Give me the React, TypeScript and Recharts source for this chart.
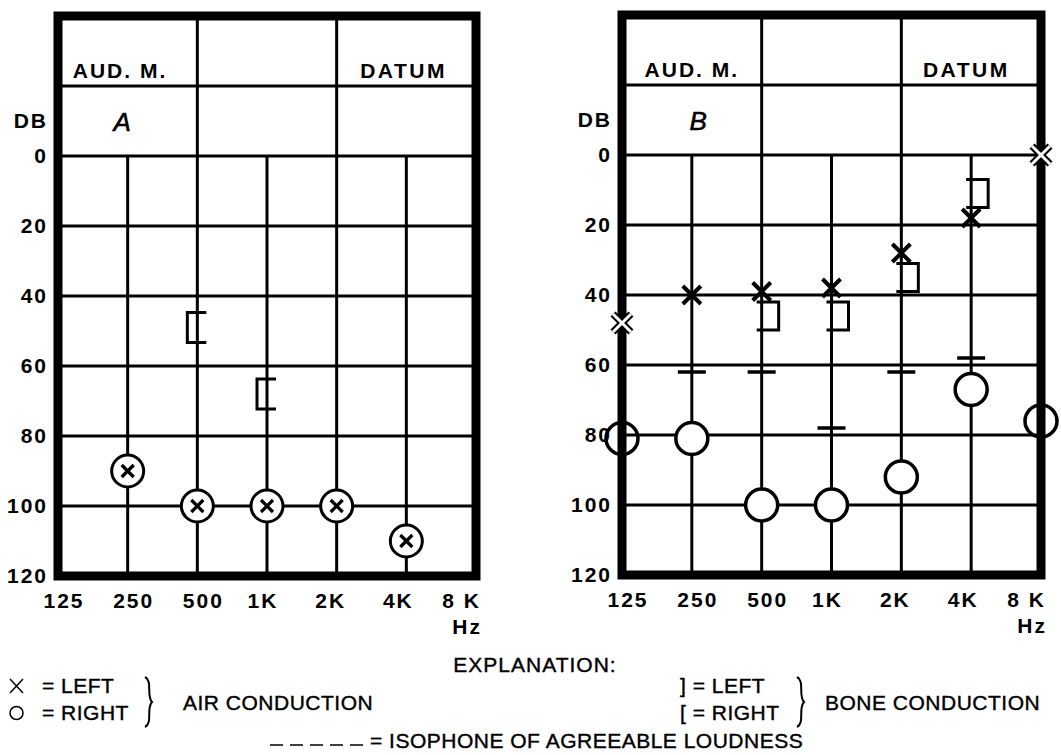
import React from "react";
import {
  ScatterChart,
  Scatter,
  XAxis,
  YAxis,
  ReferenceLine,
  ReferenceArea,
  ReferenceDot,
} from "recharts";

// frequency scale (category index is the x value)
const freqLabels = ["125", "250", "500", "1K", "2K", "4K", "8 K"];
const freqTicks = [0, 1, 2, 3, 4, 5, 6];
const dbTicks = [-10, 0, 20, 40, 60, 80, 100, 120];
const gridRows = [-20, 0, 20, 40, 60, 80, 100];
const tallCols = ["500", "2K"];
const shortCols = ["250", "1K", "4K"];

// audiogram A
const aAirFreq = ["250", "500", "1K", "2K", "4K"];
const aAirDb = [90, 100, 100, 100, 110];
const aBoneRightFreq = ["500", "1K"];
const aBoneRightDb = [49, 68];

// audiogram B
const bAirFreq = ["125", "250", "500", "1K", "2K", "4K", "8 K"];
const bAirLeftDb = [48, 40, 39, 38, 28, 18, 0];
const bAirRightDb = [81, 81, 100, 100, 92, 67, 76];
const bBoneLeftFreq = ["500", "1K", "2K", "4K"];
const bBoneLeftDb = [46, 46, 35, 11];
const bIsoFreq = ["250", "500", "1K", "2K", "4K"];
const bIsoDb = [62, 62, 78, 62, 58];

const toPoints = (freqs: string[], dbs: number[]) =>
  freqs.map((f, i) => ({ x: freqLabels.indexOf(f), y: dbs[i] }));

const tickNudge = [6, 6, 6, -4, -6, -8, 5];

const axisFont: React.CSSProperties = {
  fontFamily: "'Liberation Sans', Arial, sans-serif",
  fontWeight: 700,
  fontSize: 21,
  letterSpacing: 2,
  fill: "#000",
};

const legendFont: React.CSSProperties = {
  fontFamily: "'Liberation Sans', Arial, sans-serif",
  fontSize: 21,
  letterSpacing: 0.5,
  fill: "#000",
  stroke: "#000",
  strokeWidth: 0.4,
};

const isEdge = (p: any) => p.payload.x === 0 || p.payload.x === 6;

const CircleX = (p: any) => (
  <g>
    <circle cx={p.cx} cy={p.cy} r={16} fill="#fff" stroke="#000" strokeWidth={3} />
    <path
      d={`M${p.cx - 6},${p.cy - 6}L${p.cx + 6},${p.cy + 6}M${p.cx + 6},${p.cy - 6}L${p.cx - 6},${p.cy + 6}`}
      stroke="#000"
      strokeWidth={3.2}
    />
  </g>
);

const RingMark = (p: any) => (
  <circle
    cx={p.cx}
    cy={p.cy}
    r={16}
    fill={isEdge(p) ? "none" : "#fff"}
    stroke="#000"
    strokeWidth={3.5}
  />
);

const CrossMark = (p: any) => {
  const d = `M${p.cx - 9},${p.cy - 9}L${p.cx + 9},${p.cy + 9}M${p.cx + 9},${p.cy - 9}L${p.cx - 9},${p.cy + 9}`;
  if (isEdge(p)) {
    return (
      <g>
        <path d={d} stroke="#000" strokeWidth={7} />
        <path d={d} stroke="#fff" strokeWidth={3} />
      </g>
    );
  }
  return <path d={d} stroke="#000" strokeWidth={4} />;
};

const RightBracket = (p: any) => (
  <path
    d={`M${p.cx + 9},${p.cy - 15}L${p.cx - 10},${p.cy - 15}L${p.cx - 10},${p.cy + 15}L${p.cx + 9},${p.cy + 15}`}
    fill="none"
    stroke="#000"
    strokeWidth={3}
  />
);

const LeftBracket = (p: any) => (
  <path
    d={`M${p.cx - 5},${p.cy - 14}L${p.cx + 17},${p.cy - 14}L${p.cx + 17},${p.cy + 14}L${p.cx - 5},${p.cy + 14}`}
    fill="none"
    stroke="#000"
    strokeWidth={3}
  />
);

const IsoMark = (p: any) => (
  <line x1={p.cx - 14} x2={p.cx + 14} y1={p.cy} y2={p.cy} stroke="#000" strokeWidth={3.5} />
);

const YTick = ({ x, y, payload }: any) => (
  <text x={x} y={y} dy={7} textAnchor="end" style={axisFont}>
    {payload.value === -10 ? "DB" : payload.value}
  </text>
);

const XTick = ({ x, y, payload }: any) => {
  const i = payload.value;
  const last = i === freqLabels.length - 1;
  return (
    <g>
      <text
        x={x + tickNudge[i]}
        y={y + 32}
        textAnchor={last ? "end" : "middle"}
        style={axisFont}
      >
        {freqLabels[i]}
      </text>
      {last && (
        <text x={x + 6} y={y + 58} textAnchor="end" style={axisFont}>
          Hz
        </text>
      )}
    </g>
  );
};

const headText = (text: string, spacing: number) => (p: any) => (
  <text
    x={p.cx}
    y={p.cy + 8}
    textAnchor="middle"
    style={{ ...axisFont, letterSpacing: spacing }}
  >
    {text}
  </text>
);

const panelLetter = (text: string) => (p: any) => (
  <text
    x={p.cx}
    y={p.cy + 9}
    textAnchor="middle"
    style={{
      fontFamily: "'Liberation Sans', Arial, sans-serif",
      fontStyle: "italic",
      fontSize: 26,
      fill: "#000",
      stroke: "#000",
      strokeWidth: 0.6,
    }}
  >
    {text}
  </text>
);

interface PanelProps {
  letter: string;
  audX: number;
  datumX: number;
  letterX: number;
  width: number;
  marginRight: number;
  marginTop: number;
  children?: React.ReactNode;
}

const Panel = ({ letter, audX, datumX, letterX, width, marginRight, marginTop, children }: PanelProps) => (
  <ScatterChart
    width={width}
    height={650}
    margin={{ top: marginTop, right: marginRight, bottom: 40 - marginTop, left: 0 }}
  >
    <XAxis
      type="number"
      dataKey="x"
      domain={[0, 6]}
      ticks={freqTicks}
      interval={0}
      axisLine={false}
      tickLine={false}
      tickSize={0}
      tickMargin={0}
      height={50}
      tick={<XTick />}
    />
    <YAxis
      type="number"
      dataKey="y"
      domain={[-40, 120]}
      reversed
      ticks={dbTicks}
      interval={0}
      axisLine={false}
      tickLine={false}
      tickSize={0}
      tickMargin={10}
      width={58}
      tick={<YTick />}
    />
    {gridRows.map((v) => (
      <ReferenceLine key={`r${v}`} y={v} stroke="#000" strokeWidth={3} />
    ))}
    {tallCols.map((f) => (
      <ReferenceLine
        key={`t${f}`}
        segment={[
          { x: freqLabels.indexOf(f), y: -40 },
          { x: freqLabels.indexOf(f), y: 120 },
        ]}
        stroke="#000"
        strokeWidth={3}
      />
    ))}
    {shortCols.map((f) => (
      <ReferenceLine
        key={`s${f}`}
        segment={[
          { x: freqLabels.indexOf(f), y: 0 },
          { x: freqLabels.indexOf(f), y: 120 },
        ]}
        stroke="#000"
        strokeWidth={3}
      />
    ))}
    <ReferenceArea x1={0} x2={6} y1={-40} y2={120} fill="none" stroke="#000" strokeWidth={9} />
    <ReferenceDot x={audX} y={-24.6} r={1} shape={headText("AUD. M.", 2)} />
    <ReferenceDot x={datumX} y={-24.6} r={1} shape={headText("DATUM", 2.5)} />
    <ReferenceDot x={letterX} y={-9.6} r={1} shape={panelLetter(letter)} />
    {children}
  </ScatterChart>
);

const Legend = () => (
  <svg width={1061} height={115} style={{ position: "absolute", left: 0, top: 640 }}>
    <text x={535} y={32} textAnchor="middle" style={{ ...legendFont, letterSpacing: 1 }}>
      EXPLANATION:
    </text>
    {/* air conduction key */}
    <path d="M10,39L23,53M23,39L10,53" stroke="#000" strokeWidth={1.5} />
    <text x={42} y={53} style={legendFont}>= LEFT</text>
    <circle cx={16.5} cy={73} r={6.5} fill="none" stroke="#000" strokeWidth={1.5} />
    <text x={42} y={80} style={legendFont}>= RIGHT</text>
    <path d="M145,37C153,41 146,56 152,62C146,68 153,83 145,87" fill="none" stroke="#000" strokeWidth={2} />
    <text x={183} y={70} style={legendFont}>AIR CONDUCTION</text>
    {/* bone conduction key */}
    <text x={680} y={53} style={legendFont}>] = LEFT</text>
    <text x={680} y={80} style={legendFont}>[ = RIGHT</text>
    <path d="M797,37C805,41 798,56 804,62C798,68 805,83 797,87" fill="none" stroke="#000" strokeWidth={2} />
    <text x={825} y={70} style={legendFont}>BONE CONDUCTION</text>
    {/* isophone key */}
    <line x1={270} x2={365} y1={105} y2={105} stroke="#000" strokeWidth={1.5} strokeDasharray="13 7" />
    <text x={370} y={108} style={legendFont}>= ISOPHONE OF AGREEABLE LOUDNESS</text>
  </svg>
);

export default function App() {
  return (
    <div style={{ position: "absolute", left: 0, top: 0, width: 1061, height: 755, background: "#fff" }}>
      <div style={{ position: "absolute", left: 0, top: 0 }}>
        <Panel letter="A" audX={0.89} datumX={4.96} letterX={0.92} width={530} marginRight={54} marginTop={16}>
          <Scatter data={toPoints(aBoneRightFreq, aBoneRightDb)} shape={RightBracket} isAnimationActive={false} />
          <Scatter data={toPoints(aAirFreq, aAirDb)} shape={CircleX} isAnimationActive={false} />
        </Panel>
      </div>
      <div style={{ position: "absolute", left: 564, top: 0 }}>
        <Panel letter="B" audX={1.0} datumX={4.93} letterX={1.09} width={497} marginRight={20} marginTop={15}>
          <Scatter data={toPoints(bIsoFreq, bIsoDb)} shape={IsoMark} isAnimationActive={false} />
          <Scatter data={toPoints(bBoneLeftFreq, bBoneLeftDb)} shape={LeftBracket} isAnimationActive={false} />
          <Scatter data={toPoints(bAirFreq, bAirRightDb)} shape={RingMark} isAnimationActive={false} />
          <Scatter data={toPoints(bAirFreq, bAirLeftDb)} shape={CrossMark} isAnimationActive={false} />
        </Panel>
      </div>
      <Legend />
    </div>
  );
}
